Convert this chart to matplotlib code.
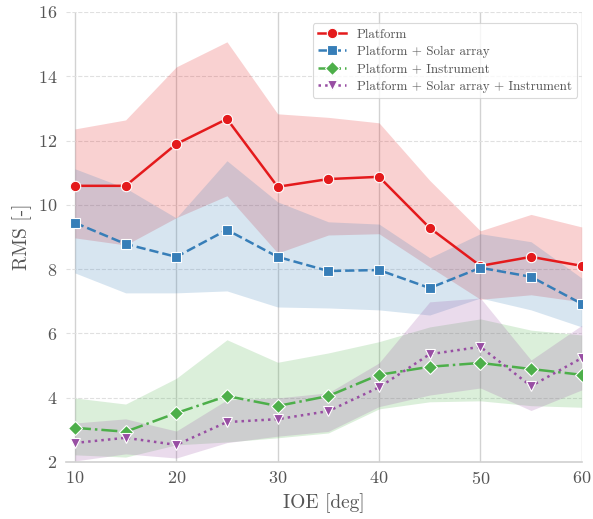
import matplotlib.pyplot as plt

plt.rcParams["font.family"] = "serif"
plt.rcParams["font.serif"] = ["cmr10", "DejaVu Serif"]
plt.rcParams["mathtext.fontset"] = "cm"
plt.rcParams["axes.formatter.use_mathtext"] = True

ioe = [10, 15, 20, 25, 30, 35, 40, 45, 50, 55, 60]

# Platform
plat_mean = [10.59, 10.59, 11.89, 12.67, 10.56, 10.80, 10.87, 9.28, 8.10, 8.38, 8.10]
plat_hi = [12.36, 12.64, 14.29, 15.07, 12.83, 12.72, 12.55, 10.76, 9.19, 9.70, 9.31]
plat_lo = [8.97, 8.75, 9.60, 10.28, 8.50, 9.06, 9.10, 8.07, 7.06, 7.20, 6.98]

# Platform + Solar array
sa_mean = [9.44, 8.78, 8.38, 9.22, 8.38, 7.94, 7.97, 7.41, 8.04, 7.76, 6.92]
sa_hi = [11.12, 10.52, 9.59, 11.37, 10.09, 9.47, 9.40, 8.35, 9.10, 8.85, 7.72]
sa_lo = [7.88, 7.26, 7.26, 7.32, 6.82, 6.79, 6.73, 6.57, 7.10, 6.73, 6.20]

# Platform + Instrument
ins_mean = [3.06, 2.94, 3.52, 4.05, 3.74, 4.05, 4.71, 4.96, 5.08, 4.89, 4.71]
ins_hi = [3.99, 3.80, 4.60, 5.80, 5.10, 5.39, 5.74, 6.20, 6.45, 6.10, 5.95]
ins_lo = [2.22, 2.15, 2.53, 2.62, 2.75, 2.90, 3.65, 3.87, 3.90, 3.75, 3.70]

# Platform + Solar array + Instrument
all_mean = [2.59, 2.75, 2.53, 3.24, 3.33, 3.58, 4.32, 5.35, 5.58, 4.36, 5.23]
all_hi = [3.21, 3.34, 2.96, 3.93, 3.99, 4.15, 5.08, 6.98, 7.10, 5.17, 6.25]
all_lo = [2.03, 2.25, 2.12, 2.60, 2.80, 2.95, 3.72, 4.08, 4.30, 3.60, 4.24]

labels = ["Platform", "Platform + Solar array", "Platform + Instrument",
          "Platform + Solar array + Instrument"]
colors = ["#e41a1c", "#377eb8", "#4daf4a", "#984ea3"]
markers = ["o", "s", "D", "v"]
styles = ["-", "--", "-.", ":"]
sizes = [7.5, 7.5, 7, 7.5]

series = [
    (plat_mean, plat_lo, plat_hi),
    (sa_mean, sa_lo, sa_hi),
    (ins_mean, ins_lo, ins_hi),
    (all_mean, all_lo, all_hi),
]

fig = plt.figure(figsize=(5.93, 5.19), dpi=100)
ax = fig.add_axes([0.111, 0.110, 0.870, 0.867])

for (mean, lo, hi), lab, c, m, ls, ms in zip(series, labels, colors, markers, styles, sizes):
    ax.fill_between(ioe, lo, hi, color=c, alpha=0.2, linewidth=0, zorder=1)
    ax.plot(ioe, mean, color=c, marker=m, linestyle=ls, linewidth=1.8,
            markersize=ms, markeredgecolor="white", markeredgewidth=0.8,
            label=lab, zorder=3)

ax.set_xlim(9.1, 60)
ax.set_ylim(2, 16)
ax.set_xticks([10, 20, 30, 40, 50, 60])
ax.set_yticks([2, 4, 6, 8, 10, 12, 14, 16])

ax.grid(axis="x", color="#d2d2d2", linewidth=1.0, linestyle="-", zorder=0)
ax.grid(axis="y", color="#e0e0e0", linewidth=0.8, linestyle="--", zorder=0)
ax.set_axisbelow(True)

for side in ["left", "top", "right"]:
    ax.spines[side].set_visible(False)
ax.spines["bottom"].set_color("#d0d0d0")
ax.spines["bottom"].set_linewidth(1.2)

ax.tick_params(length=0, labelsize=13, labelcolor="#555555", pad=6)
ax.set_xlabel("IOE [deg]", fontsize=14, color="#555555")
ax.set_ylabel("RMS [-]", fontsize=14, color="#555555")

leg = ax.legend(loc="upper right", fontsize=9.4, frameon=True, fancybox=True,
                edgecolor="#d0d0d0", labelcolor="#555555", borderaxespad=0.35,
                handlelength=2.2, labelspacing=0.4, bbox_to_anchor=(1.0, 0.985))
leg.get_frame().set_linewidth(0.8)

fig.savefig("out.png", dpi=100)
